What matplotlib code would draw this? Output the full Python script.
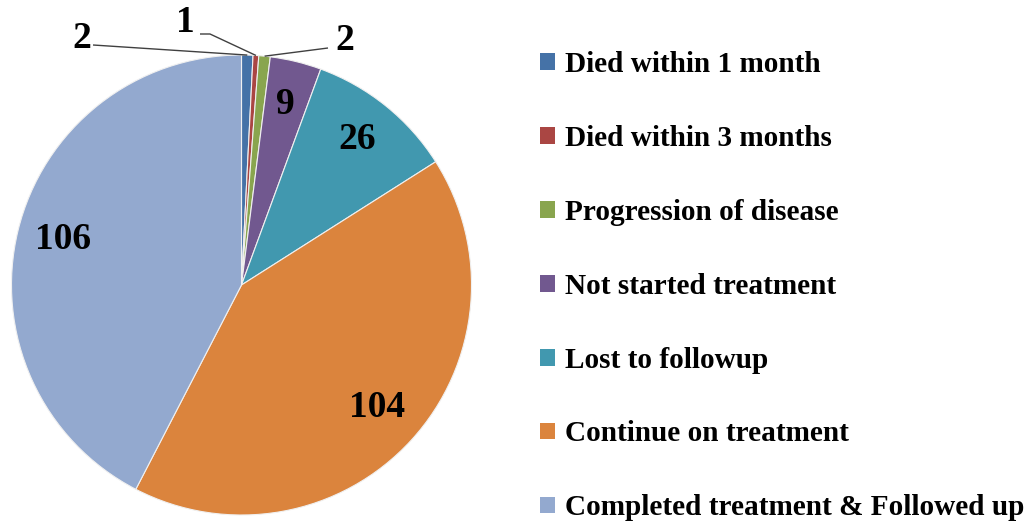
import numpy as np
import matplotlib
matplotlib.use("Agg")
import matplotlib.pyplot as plt
from matplotlib.patches import Patch

categories = ["Died within 1 month", "Died within 3 months", "Progression of disease",
              "Not started treatment", "Lost to followup", "Continue on treatment",
              "Completed treatment & Followed up"]
values = [2, 1, 2, 9, 26, 104, 106]
colors = ["#4572A7", "#AA4643", "#89A54E", "#71588F", "#4198AF", "#DB843D", "#93A9CF"]

W, H = 1034, 522
fig = plt.figure(figsize=(W / 100, H / 100), dpi=100)
ax = fig.add_axes([0, 0, 1, 1])

cx, cy, R = 241.5, H - 285, 230
wedges, _ = ax.pie(values, colors=colors, startangle=90, counterclock=False,
                   center=(cx, cy), radius=R, frame=True,
                   wedgeprops=dict(edgecolor="#f0f0f0", linewidth=0.8))
ax.set_xlim(0, W)
ax.set_ylim(0, H)
ax.set_aspect("equal")
ax.axis("off")

font = dict(family="Liberation Serif", weight="bold", size=27, color="black")

# leader label positions (pixel layout) for small slices
outside = {0: ((82, H - 38), (93, H - 45)),
           1: ((185, H - 22), (200, H - 34)),
           2: ((345, H - 40), (328, H - 48))}

for i, (w, v) in enumerate(zip(wedges, values)):
    mid = np.deg2rad((w.theta1 + w.theta2) / 2)
    if i in outside:
        (tx, ty), (lx, ly) = outside[i]
        ex, ey = cx + R * np.cos(mid), cy + R * np.sin(mid)
        ax.text(tx, ty, str(v), ha="center", va="center", **font)
        if i == 1:
            xs, ys = [lx, lx + 10, ex], [ly, ly, ey]
        else:
            xs, ys = [lx, ex], [ly, ey]
        ax.plot(xs, ys, color="#404040", lw=1.0, solid_capstyle="butt")
    else:
        r = 0.8 * R
        ax.text(cx + r * np.cos(mid), cy + r * np.sin(mid) + 2, str(v),
                ha="center", va="center", **font)

handles = [Patch(facecolor=c, edgecolor="none") for c in colors]
leg = ax.legend(handles, categories, loc="upper left", bbox_to_anchor=(540 / W, 1 - 51 / H),
                frameon=False, prop=dict(family="Liberation Serif", weight="bold", size=21.1),
                handlelength=0.5, handleheight=0.5, handletextpad=0.35,
                labelspacing=1.6, borderaxespad=0, borderpad=0)

fig.savefig("out.png", dpi=100)
